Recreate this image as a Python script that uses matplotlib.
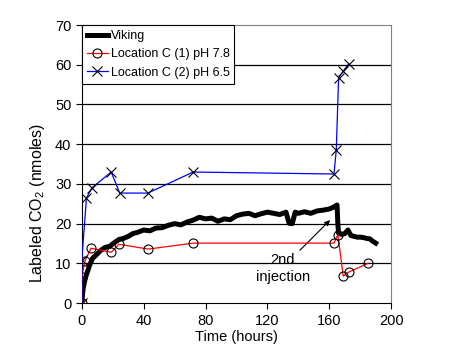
import numpy as np
import matplotlib
matplotlib.use('Agg')
import matplotlib.pyplot as plt

plt.rcParams['font.family'] = ['Liberation Sans', 'DejaVu Sans']
plt.rcParams['mathtext.fontset'] = 'custom'
plt.rcParams['mathtext.rm'] = 'Liberation Sans'
plt.rcParams['mathtext.it'] = 'Liberation Sans:italic'

# Viking data (thick noisy black trace)
viking_t = [0, 0.5, 1, 2, 3, 4, 5, 7, 9, 12, 15, 18, 21, 24, 27, 30,
            33, 36, 40, 44, 48, 52, 56, 60, 64, 68, 72, 76, 80, 84, 88, 92,
            96, 100, 104, 108, 112, 116, 120, 124, 128, 132, 134, 136, 138, 140,
            144, 148, 152, 156, 160, 163, 165, 165.5, 166, 168, 170, 172, 174,
            176, 178, 180, 182, 184, 186, 188, 190]
viking_v = [0, 2.5, 4, 5.8, 7.2, 8.3, 9.5, 11.3, 12, 13.2, 14, 14.3, 15.2, 16, 16.3, 16.8,
            17.5, 17.8, 18.4, 18.2, 18.9, 19.0, 19.6, 20.0, 19.7, 20.4, 20.9, 21.6, 21.2, 21.4, 20.6, 21.2,
            21.0, 22.0, 22.4, 22.6, 22.0, 22.5, 22.9, 22.6, 22.3, 22.9, 20.1, 20.0, 22.9, 22.6,
            23.0, 22.6, 23.2, 23.4, 23.7, 24.2, 24.7, 20.0, 17.6, 17.3, 17.5, 18.4, 17.0,
            16.8, 16.6, 16.6, 16.5, 16.3, 16.2, 15.6, 15.1]

# Location C (1) pH 7.8
loc1_t = [0, 0, 2, 6, 19, 24, 43, 72, 163, 165.5, 169, 172.5, 185]
loc1_v = [0, 6.5, 10.6, 13.8, 12.8, 14.8, 13.6, 15.1, 15.1, 17.2, 6.8, 7.8, 10.0]

# Location C (2) pH 6.5
loc2_t = [0, 0, 3, 6.5, 19, 24.5, 42.7, 72, 163, 164.5, 166, 169, 172.5]
loc2_v = [0, 10.8, 26.4, 29, 33, 27.7, 27.7, 33, 32.5, 38.5, 56.7, 58.4, 60.2]

fig = plt.figure(figsize=(4.57, 3.63), dpi=100)
ax = fig.add_axes([0.179, 0.165, 0.677, 0.766])

# horizontal grid lines
for gy in range(10, 70, 10):
    ax.axhline(gy, color='black', linewidth=0.9, zorder=1)

ax.plot(viking_t, viking_v, color='black', linewidth=3.6, label='Viking', zorder=3)
ax.plot(loc1_t, loc1_v, color='red', linewidth=0.9, marker='o',
        markersize=6.5, markerfacecolor='none', markeredgecolor='black',
        markeredgewidth=0.8, label='Location C (1) pH 7.8', zorder=4)
ax.plot(loc2_t, loc2_v, color='blue', linewidth=0.9, marker='x',
        markersize=7, markeredgecolor='black', markeredgewidth=0.8,
        label='Location C (2) pH 6.5', zorder=4)

# annotation for second injection
ax.text(130, 8.8, '2nd\ninjection', ha='center', va='center',
        fontsize=10.5, linespacing=1.25)
ax.annotate('', xy=(160.5, 20.9), xytext=(141, 13.3),
            arrowprops=dict(arrowstyle='-|>', color='black', lw=0.8,
                            mutation_scale=8, shrinkA=0, shrinkB=0))

ax.set_xlim(0, 200)
ax.set_ylim(0, 70)
ax.set_xticks([0, 40, 80, 120, 160, 200])
ax.set_yticks(range(0, 80, 10))
ax.tick_params(direction='out', length=4, width=0.8, labelsize=10.5, colors='black')

for side in ['top', 'right']:
    ax.spines[side].set_color('#808080')
for side in ['left', 'bottom']:
    ax.spines[side].set_color('black')

ax.set_xlabel('Time (hours)', fontsize=10.5, labelpad=2)
ax.set_ylabel('Labeled CO$_2$ (nmoles)', fontsize=11.5)
ax.yaxis.set_label_coords(-0.113, 0.36)

leg = ax.legend(loc='upper left', bbox_to_anchor=(0, 1), borderaxespad=0,
                fontsize=9, frameon=True, fancybox=False, framealpha=1,
                edgecolor='black', handlelength=1.7, handletextpad=0.2,
                labelspacing=0.5, borderpad=0.4)
leg.get_frame().set_linewidth(0.8)

fig.savefig('out.png', dpi=100)
